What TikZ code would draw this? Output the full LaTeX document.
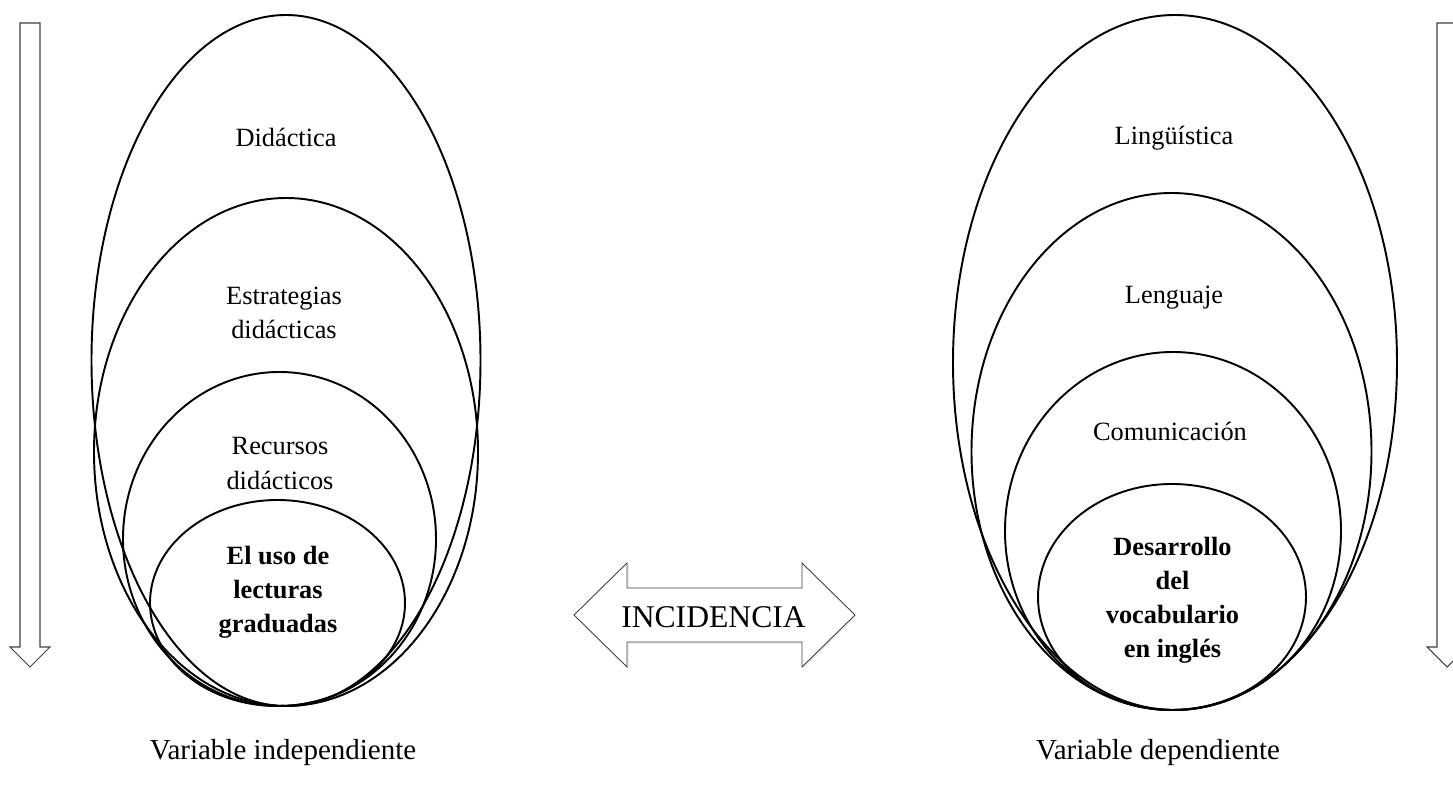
\documentclass[tikz,border=0pt]{standalone}
\usepackage{fontspec}
\setmainfont{Liberation Serif}
\usetikzlibrary{shadows}

\begin{document}
\begin{tikzpicture}[ring/.style={line width=1.1pt},
    lbl/.style={align=center,font=\fontsize{15}{19.4}\selectfont},
    blbl/.style={align=center,font=\fontsize{15}{19.4}\selectfont\bfseries},
    flecha/.style={draw=black!75,line width=0.6pt,fill=white}]
  \useasboundingbox (0,0) rectangle (29.06,15.9);
  \clip (0,0) rectangle (29.06,15.9);
  % side arrows
  \draw[flecha] (0.4,15.44)--(0.8,15.44)--(0.8,2.96)--(1.0,2.96)--(0.6,2.56)--(0.2,2.96)--(0.4,2.96)--cycle;
  \draw[flecha] (28.74,15.44)--(29.14,15.44)--(29.14,2.96)--(29.34,2.96)--(28.94,2.56)--(28.54,2.96)--(28.74,2.96)--cycle;
  % independent variable
  \draw[ring] (5.72,8.69) ellipse (3.89 and 6.91);
  \draw[ring] (5.72,6.86) ellipse (3.84 and 5.08);
  \draw[ring] (5.59,5.12) ellipse (3.13 and 3.34);
  \draw[ring] (5.55,3.84) ellipse (2.55 and 2.06);
  \node[lbl] (didac) at (5.72,13.16) {Didáctica};
  \node[lbl] (estrat) at (5.68,9.64) {Estrategias\\didácticas};
  \node[lbl] (recur) at (5.6,6.63) {Recursos\\didácticos};
  \node[blbl] (lectura) at (5.56,4.06) {El uso de\\lecturas\\graduadas};
  % dependent variable
  \draw[ring] (23.5,8.65) ellipse (4.44 and 6.95);
  \draw[ring] (23.43,6.87) ellipse (4.0 and 5.17);
  \draw[ring] (23.46,5.28) ellipse (3.36 and 3.58);
  \draw[ring] (23.44,3.96) ellipse (2.68 and 2.26);
  \node[lbl] (lingu) at (23.48,13.13) {Lingüística};
  \node[lbl] (lengu) at (23.48,9.94) {Lenguaje};
  \node[lbl] (comun) at (23.4,7.27) {Comunicación};
  \node[blbl] (vocab) at (23.45,3.9) {Desarrollo\\del\\vocabulario\\en inglés};
  % incidence
  \draw[flecha,line width=0.5pt,drop shadow={opacity=0.12,shadow xshift=1pt,shadow yshift=-1pt}]
    (11.48,3.6)--(12.54,4.64)--(12.54,4.14)--(16.04,4.14)--(16.04,4.64)--(17.1,3.6)
    --(16.04,2.56)--(16.04,3.06)--(12.54,3.06)--(12.54,2.56)--cycle;
  \node[font=\fontsize{18}{22}\selectfont] (incid) at (14.27,3.56) {INCIDENCIA};
  \node[font=\fontsize{16.5}{20}\selectfont,anchor=base] (vind) at (5.66,0.7) {Variable independiente};
  \node[font=\fontsize{16.5}{20}\selectfont,anchor=base] (vdep) at (23.16,0.7) {Variable dependiente};
\end{tikzpicture}
\end{document}
